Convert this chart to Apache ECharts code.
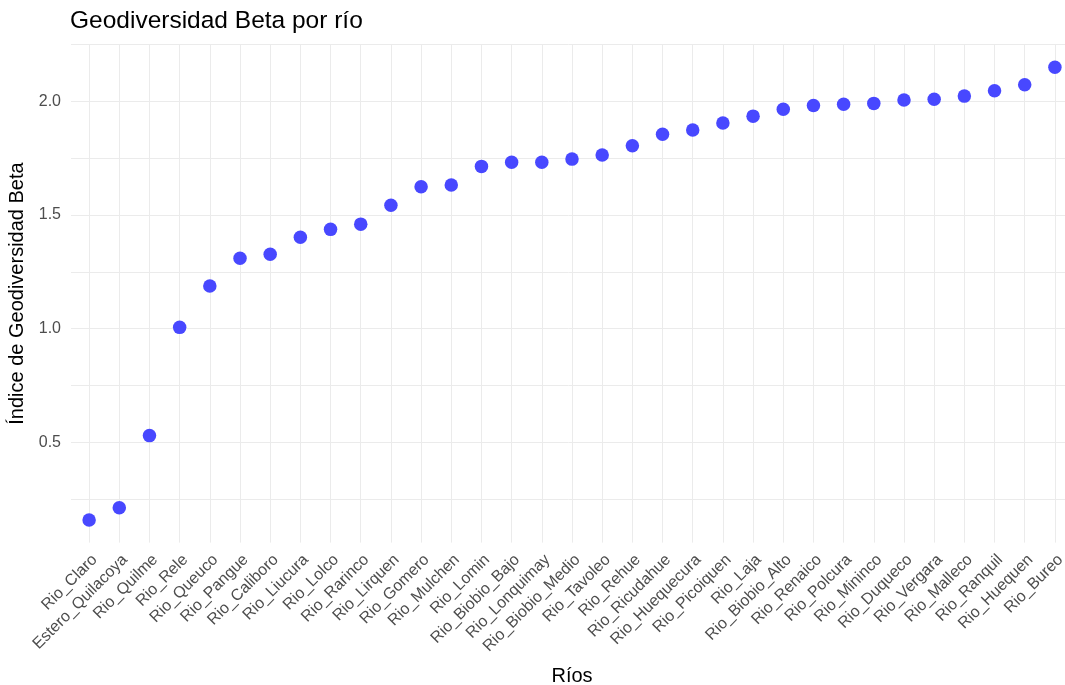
<!DOCTYPE html>
<html>
<head>
<meta charset="utf-8">
<script src="https://cdn.jsdelivr.net/npm/echarts@6/dist/echarts.min.js"></script>
<style>
html,body{margin:0;padding:0;background:#fff;}
#chart{width:1065px;height:685px;}
</style>
</head>
<body>
<div id="chart"></div>
<script>
const categories = ["Rio_Claro","Estero_Quilacoya","Rio_Quilme","Rio_Rele","Rio_Queuco","Rio_Pangue","Rio_Caliboro","Rio_Liucura","Rio_Lolco","Rio_Rarinco","Rio_Lirquen","Rio_Gomero","Rio_Mulchen","Rio_Lomin","Rio_Biobio_Bajo","Rio_Lonquimay","Rio_Biobio_Medio","Rio_Tavoleo","Rio_Rehue","Rio_Ricudahue","Rio_Huequecura","Rio_Picoiquen","Rio_Laja","Rio_Biobio_Alto","Rio_Renaico","Rio_Polcura","Rio_Mininco","Rio_Duqueco","Rio_Vergara","Rio_Malleco","Rio_Ranquil","Rio_Huequen","Rio_Bureo"];
const betaValues = [0.159,0.213,0.530,1.006,1.188,1.310,1.328,1.402,1.437,1.460,1.543,1.624,1.632,1.714,1.732,1.732,1.746,1.764,1.805,1.855,1.874,1.905,1.935,1.965,1.982,1.987,1.991,2.006,2.009,2.023,2.047,2.073,2.150];
const yTickLabels = [0.5, 1.0, 1.5, 2.0];
const yGridValues = [0.25, 0.5, 0.75, 1.0, 1.25, 1.5, 1.75, 2.0, 2.25];

const positions = categories.map((c, i) => i + 1);
const points = betaValues.map((v, i) => [positions[i], v]);
const yMin = 0.0595, yMax = 2.25;

const chart = echarts.init(document.getElementById('chart'), null, {renderer: 'canvas'});
const gridColor = '#ebebeb';
const tickColor = '#4d4d4d';
const font = 'Liberation Sans, Arial, sans-serif';
chart.setOption({
  animation: false,
  backgroundColor: '#ffffff',
  textStyle: {fontFamily: font},
  title: {
    text: 'Geodiversidad Beta por río',
    left: 70, top: 9, padding: 0,
    textStyle: {fontSize: 24.5, fontWeight: 'normal', color: '#000000', fontFamily: font}
  },
  grid: {left: 71, right: -8, top: 44.5, bottom: 142.4, containLabel: false, outerBoundsMode: 'none'},
  xAxis: {
    type: 'value',
    min: 0.4, max: 33.6,
    name: 'Ríos', nameLocation: 'middle', nameGap: 124,
    nameTextStyle: {fontSize: 20, color: '#000000'},
    axisLine: {show: false},
    axisTick: {show: false, customValues: positions},
    splitLine: {show: true, lineStyle: {color: gridColor, width: 1}},
    axisLabel: {
      customValues: positions,
      rotate: 45, fontSize: 16, color: tickColor, margin: 9,
      verticalAlign: 'top',
      formatter: function (v) {
        const i = Math.round(v);
        return categories[i - 1] || '';
      }
    }
  },
  yAxis: {
    type: 'value',
    min: yMin, max: yMax,
    name: 'Índice de Geodiversidad Beta', nameLocation: 'middle', nameGap: 33,
    nameTextStyle: {fontSize: 20, color: '#000000'},
    axisLine: {show: false},
    axisTick: {show: false, customValues: yGridValues},
    splitLine: {show: true, lineStyle: {color: gridColor, width: 1}},
    axisLabel: {
      customValues: yTickLabels,
      fontSize: 16, color: tickColor, margin: 10,
      formatter: function (v) { return Number(v).toFixed(1); }
    }
  },
  series: [{
    type: 'scatter',
    data: points,
    symbol: 'circle',
    symbolSize: 13.5,
    itemStyle: {color: '#4848ff', opacity: 1}
  }]
});
</script>
</body>
</html>
